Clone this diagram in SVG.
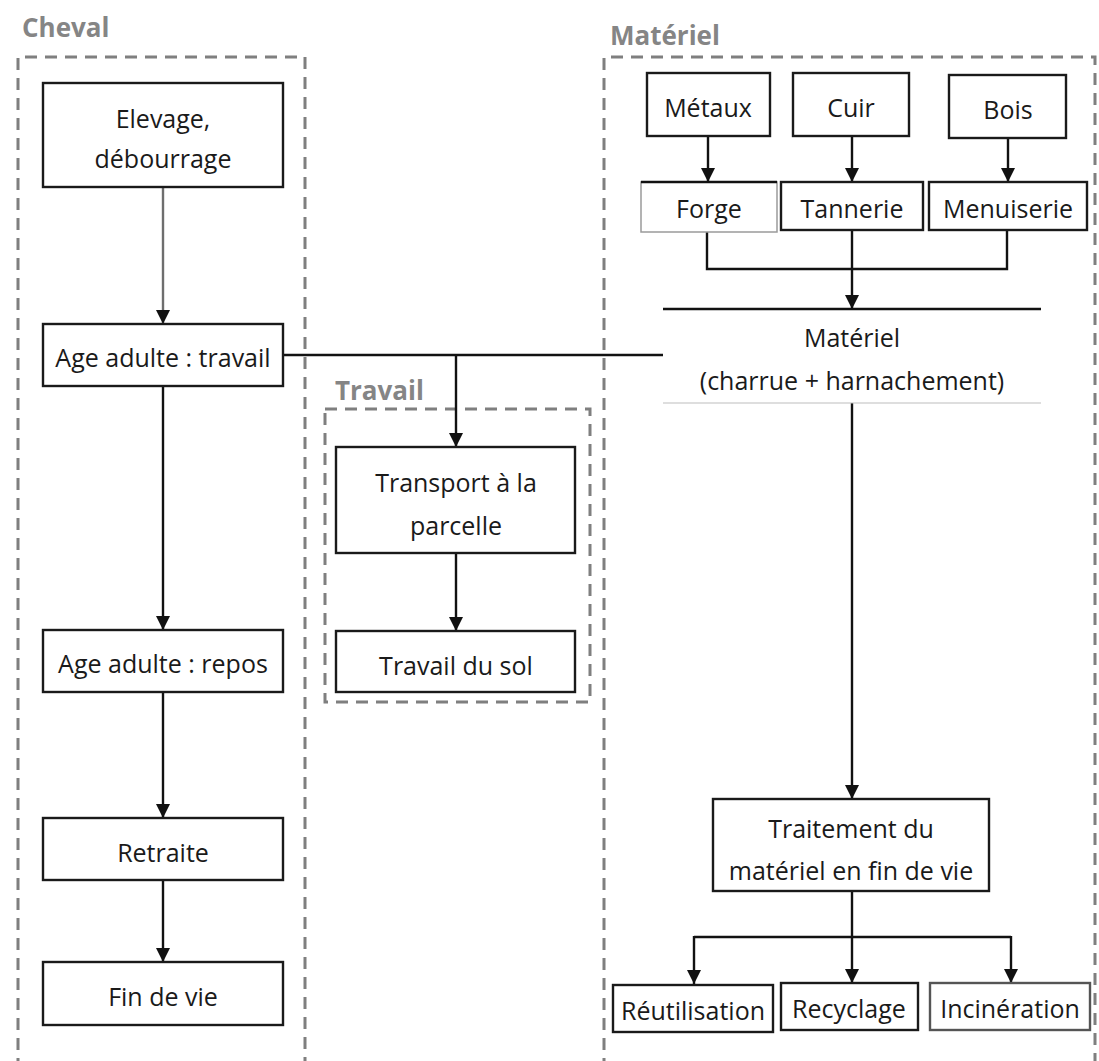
<svg xmlns="http://www.w3.org/2000/svg" width="1099" height="1061" viewBox="0 0 1099 1061">
<style>
.bg{fill:#ffffff}
.grp{fill:none;stroke:#7f7f7f;stroke-width:3;stroke-dasharray:12 8}
.lbl{font-family:"Open Sans","Liberation Sans",sans-serif;font-weight:bold;font-size:26px;fill:#858585}
.box{fill:#ffffff;stroke:#1a1a1a;stroke-width:2.4}
.lite{fill:#ffffff;stroke:#9a9a9a;stroke-width:1.5}
.t{font-family:"Open Sans","Liberation Sans",sans-serif;font-size:25px;font-weight:500;fill:#1a1a1a;text-anchor:middle}
.c{fill:none;stroke:#111;stroke-width:2.4}
.cg{fill:none;stroke:#6e6e6e;stroke-width:2.4}
.thin{fill:none;stroke:#bdbdbd;stroke-width:1.2}
</style>
<defs>
<marker id="ah" markerUnits="userSpaceOnUse" markerWidth="15" markerHeight="15" refX="14" refY="7" orient="auto">
<path d="M0,0 L14,7 L0,14 z" fill="#111"/>
</marker>
</defs>
<rect class="bg" x="0" y="0" width="1099" height="1061"/>

<g id="group-cheval">
<path class="grp" d="M18,1070 V57 H305 V1070"/>
<text class="lbl" x="22" y="37">Cheval</text>
</g>
<g id="group-materiel">
<path class="grp" d="M604,1070 V57 H1095 V1070"/>
<text class="lbl" x="610" y="45">Matériel</text>
</g>
<g id="group-travail">
<rect class="grp" x="325" y="409" width="265" height="293"/>
<text class="lbl" x="335" y="400">Travail</text>
</g>

<g id="connectors">
<line class="cg" x1="163" y1="187" x2="163" y2="324" marker-end="url(#ah)"/>
<line class="c" x1="163" y1="386" x2="163" y2="630" marker-end="url(#ah)"/>
<line class="c" x1="163" y1="692" x2="163" y2="818" marker-end="url(#ah)"/>
<line class="c" x1="163" y1="880" x2="163" y2="962" marker-end="url(#ah)"/>
<line class="c" x1="283" y1="355" x2="663" y2="355"/>
<line class="c" x1="456" y1="355" x2="456" y2="447" marker-end="url(#ah)"/>
<line class="c" x1="456" y1="553" x2="456" y2="631" marker-end="url(#ah)"/>
<line class="c" x1="708" y1="136" x2="708" y2="182" marker-end="url(#ah)"/>
<line class="c" x1="852" y1="136" x2="852" y2="182" marker-end="url(#ah)"/>
<line class="c" x1="1008" y1="138" x2="1008" y2="182" marker-end="url(#ah)"/>
<path class="c" d="M707,232 V269 H1007 V230"/>
<line class="c" x1="852" y1="230" x2="852" y2="309" marker-end="url(#ah)"/>
<line class="c" x1="852" y1="403" x2="852" y2="799" marker-end="url(#ah)"/>
<line class="c" x1="852" y1="891" x2="852" y2="937"/>
<line class="c" x1="694" y1="937" x2="1011" y2="937"/>
<line class="c" x1="694" y1="936" x2="694" y2="984" marker-end="url(#ah)"/>
<line class="c" x1="852" y1="937" x2="852" y2="983" marker-end="url(#ah)"/>
<line class="c" x1="1011" y1="936" x2="1011" y2="983" marker-end="url(#ah)"/>
</g>

<g id="n-elevage">
<rect class="box" x="43" y="83" width="240" height="104"/>
<text class="t" x="163" y="128">Elevage,</text>
<text class="t" x="163" y="168">débourrage</text>
</g>
<g id="n-age-travail">
<rect class="box" x="43" y="324" width="240" height="62"/>
<text class="t" x="163" y="367">Age adulte : travail</text>
</g>
<g id="n-age-repos">
<rect class="box" x="43" y="630" width="240" height="62"/>
<text class="t" x="163" y="673">Age adulte : repos</text>
</g>
<g id="n-retraite">
<rect class="box" x="43" y="818" width="240" height="62"/>
<text class="t" x="163" y="862">Retraite</text>
</g>
<g id="n-fin-de-vie">
<rect class="box" x="43" y="962" width="240" height="63"/>
<text class="t" x="163" y="1006">Fin de vie</text>
</g>

<g id="n-transport">
<rect class="box" x="336" y="447" width="239" height="106"/>
<text class="t" x="456" y="492">Transport à la</text>
<text class="t" x="456" y="535">parcelle</text>
</g>
<g id="n-travail-sol">
<rect class="box" x="336" y="631" width="239" height="61"/>
<text class="t" x="456" y="675">Travail du sol</text>
</g>

<g id="n-metaux">
<rect class="box" x="647" y="73" width="123" height="63"/>
<text class="t" x="708" y="117">Métaux</text>
</g>
<g id="n-cuir">
<rect class="box" x="793" y="73" width="116" height="63"/>
<text class="t" x="851" y="117">Cuir</text>
</g>
<g id="n-bois">
<rect class="box" x="949" y="75" width="117" height="63"/>
<text class="t" x="1008" y="119">Bois</text>
</g>
<g id="n-forge">
<rect class="lite" x="641" y="182" width="136" height="50"/>
<line class="c" x1="641" y1="182" x2="777" y2="182"/>
<text class="t" x="709" y="218">Forge</text>
</g>
<g id="n-tannerie">
<rect class="box" x="781" y="182" width="142" height="48"/>
<text class="t" x="852" y="218">Tannerie</text>
</g>
<g id="n-menuiserie">
<rect class="box" x="929" y="182" width="158" height="48"/>
<text class="t" x="1008" y="218">Menuiserie</text>
</g>
<g id="n-materiel">
<line class="c" x1="663" y1="309" x2="1041" y2="309"/>
<line class="thin" x1="663" y1="403" x2="1041" y2="403"/>
<text class="t" x="852" y="347">Matériel</text>
<text class="t" x="852" y="390">(charrue + harnachement)</text>
</g>
<g id="n-traitement">
<rect class="box" x="713" y="799" width="276" height="92"/>
<text class="t" x="851" y="838">Traitement du</text>
<text class="t" x="851" y="880">matériel en fin de vie</text>
</g>
<g id="n-reutilisation">
<rect class="box" x="613" y="985" width="160" height="47"/>
<text class="t" x="693" y="1020">Réutilisation</text>
</g>
<g id="n-recyclage">
<rect class="box" x="781" y="983" width="137" height="47"/>
<text class="t" x="849" y="1018">Recyclage</text>
</g>
<g id="n-incineration">
<rect class="box" x="930" y="983" width="160" height="47" style="stroke:#555"/>
<text class="t" x="1010" y="1018">Incinération</text>
</g>
</svg>
